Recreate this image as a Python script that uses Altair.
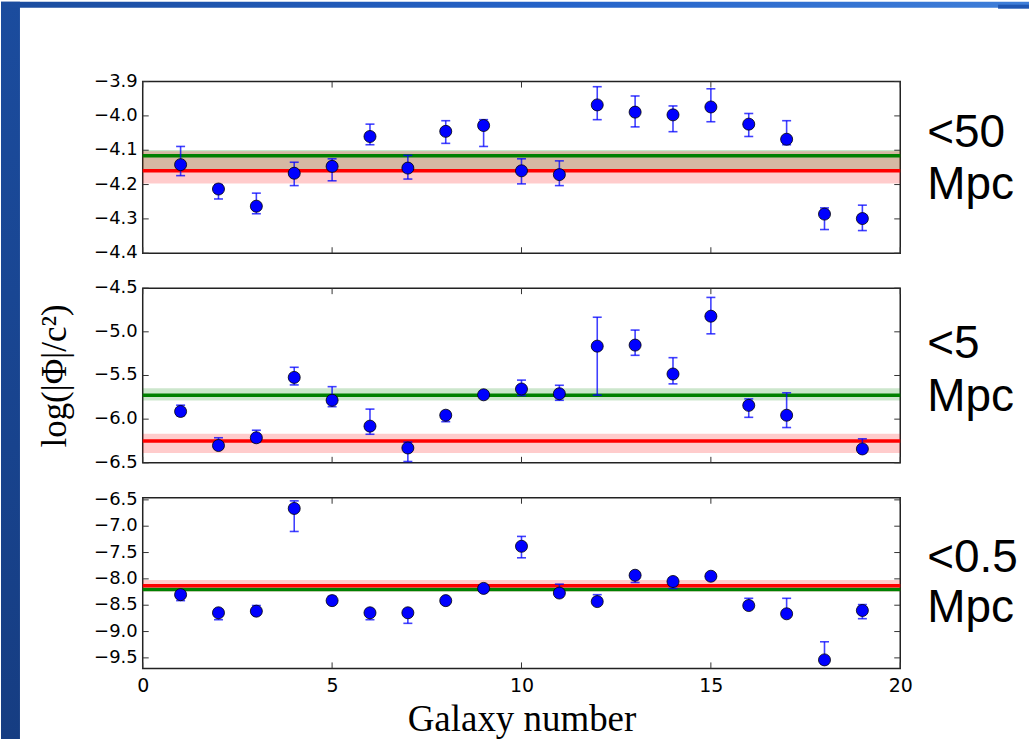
import altair as alt
import pandas as pd

# ---------------- data ----------------
gal1 = list(range(1, 20))
val1 = [-4.142, -4.213, -4.263, -4.167, -4.147, -4.060, -4.152, -4.045, -4.028, -4.160,
        -4.171, -3.968, -3.989, -3.997, -3.974, -4.024, -4.068, -4.286, -4.299]
lo1 = [-4.174, -4.242, -4.285, -4.203, -4.189, -4.084, -4.184, -4.080, -4.089, -4.198,
       -4.203, -4.011, -4.032, -4.046, -4.017, -4.060, -4.084, -4.331, -4.334]
hi1 = [-4.089, -4.200, -4.225, -4.135, -4.125, -4.024, -4.115, -4.014, -4.011, -4.125,
       -4.131, -3.915, -3.942, -3.971, -3.921, -3.993, -4.014, -4.268, -4.260]

gal2 = list(range(1, 18)) + [19]
val2 = [-5.912, -6.302, -6.213, -5.522, -5.784, -6.080, -6.330, -5.955, -5.721, -5.655,
        -5.709, -5.164, -5.152, -5.483, -4.821, -5.842, -5.955, -6.341]
lo2 = [-5.960, -6.341, -6.263, -5.608, -5.857, -6.173, -6.485, -6.029, -5.750, -5.729,
       -5.784, -5.725, -5.269, -5.596, -5.023, -5.979, -6.096, -6.380]
hi2 = [-5.840, -6.213, -6.127, -5.406, -5.628, -5.885, -6.263, -5.912, -5.690, -5.553,
       -5.612, -4.833, -4.980, -5.296, -4.606, -5.768, -5.698, -6.225]

gal3 = list(range(1, 20))
val3 = [-8.300, -8.644, -8.613, -6.663, -8.413, -8.644, -8.644, -8.413, -8.181, -7.381,
        -8.269, -8.431, -7.931, -8.050, -7.950, -8.506, -8.663, -9.538, -8.600]
lo3 = [-8.413, -8.775, -8.660, -7.100, -8.450, -8.775, -8.844, -8.450, -8.210, -7.600,
       -8.300, -8.470, -8.069, -8.181, -7.980, -8.550, -8.700, -9.560, -8.756]
hi3 = [-8.225, -8.600, -8.506, -6.519, -8.331, -8.600, -8.600, -8.360, -8.150, -7.194,
       -8.100, -8.300, -7.900, -8.000, -7.920, -8.369, -8.369, -9.194, -8.488]

# horizontal reference levels: (centre, band low, band high)
green1 = (-4.116, -4.157, -4.099)
red1 = (-4.160, -4.197, -4.103)
green2 = (-5.725, -5.787, -5.647)
red2 = (-6.251, -6.388, -6.166)
green3 = (-8.200, -8.230, -8.170)
red3 = (-8.131, -8.240, -8.020)

yticks1 = [-3.9, -4.0, -4.1, -4.2, -4.3, -4.4]
yticks2 = [-4.5, -5.0, -5.5, -6.0, -6.5]
yticks3 = [-6.5, -7.0, -7.5, -8.0, -8.5, -9.0, -9.5]
xticks = [0, 5, 10, 15, 20]
xdomain = [0, 20]

labels1 = ["<50", "Mpc"]
labels2 = ["<5", "Mpc"]
labels3 = ["<0.5", "Mpc"]

W = 759
BLUE = "#0000ff"


def panel(gal, val, lo, hi, domain, yticks, green, red, labels, H, label_y,
          show_x=False, ytitle=None, frame=False):
    pts = pd.DataFrame({"g": gal, "v": val, "lo": lo, "hi": hi})
    lev = pd.DataFrame({
        "kind": ["green", "red"],
        "c": [green[0], red[0]],
        "b0": [green[1], red[1]],
        "b1": [green[2], red[2]],
        "x0": [xdomain[0]] * 2,
        "x1": [xdomain[1]] * 2,
    })
    ys = alt.Scale(domain=domain, nice=False, zero=False)
    xs = alt.Scale(domain=xdomain, nice=False, zero=False)

    if show_x:
        xaxis = alt.Axis(values=xticks, format="d", ticks=False, domain=False, grid=False,
                         labelFont="DejaVu Sans", labelFontSize=19, labelPadding=8,
                         labelFlush=False, labelOverlap=False, labelColor="black",
                         title="Galaxy number", titleFont="Liberation Serif",
                         titleFontSize=37, titleFontWeight="normal", titlePadding=6,
                         titleColor="black")
    else:
        xaxis = None
    yaxis_kw = dict(labels=False, ticks=False, domain=False, grid=False)
    if ytitle:
        yaxis_kw.update(title=ytitle, titleFont="Liberation Serif", titleFontSize=35,
                        titleFontWeight="normal", titlePadding=70, titleColor="black")
    yaxis = alt.Axis(**yaxis_kw)

    base_lev = alt.Chart(lev)
    colors = alt.Scale(domain=["green", "red"], range=["#008000", "#ff0000"])

    bands = base_lev.mark_rect(opacity=0.2).encode(
        x=alt.X("x0:Q", scale=xs, axis=xaxis, title=None if not show_x else "Galaxy number"),
        x2="x1:Q",
        y=alt.Y("b0:Q", scale=ys, axis=yaxis, title=ytitle if ytitle else None),
        y2="b1:Q",
        color=alt.Color("kind:N", scale=colors, legend=None),
    )
    lines = base_lev.mark_rule(strokeWidth=3.5).encode(
        x="x0:Q", x2="x1:Q", y="c:Q",
        color=alt.Color("kind:N", scale=colors, legend=None),
    )
    base_pts = alt.Chart(pts)
    bars = base_pts.mark_rule(color=BLUE, strokeWidth=1.6, opacity=0.75).encode(
        x="g:Q", y="lo:Q", y2="hi:Q")
    cap_lo = base_pts.mark_tick(color=BLUE, orient="horizontal", size=9, thickness=1.6,
                                opacity=0.75).encode(x="g:Q", y="lo:Q")
    cap_hi = base_pts.mark_tick(color=BLUE, orient="horizontal", size=9, thickness=1.6,
                                opacity=0.75).encode(x="g:Q", y="hi:Q")
    dots = base_pts.mark_point(filled=True, fill=BLUE, stroke="black", strokeWidth=0.8,
                               size=145, opacity=1, shape="circle").encode(
        x="g:Q", y="v:Q")

    # inward ticks on all four sides + y tick labels
    ytdf = pd.DataFrame({"t": yticks,
                         "lab": [f"{t:.1f}".replace("-", "\u2212") for t in yticks]})
    yt = alt.Chart(ytdf)
    xt = alt.Chart(pd.DataFrame({"t": xticks}))
    tick_style = dict(color="#333333", strokeWidth=1)
    ytl = yt.mark_rule(**tick_style).encode(y="t:Q", x=alt.value(0), x2=alt.value(6))
    ytr = yt.mark_rule(**tick_style).encode(y="t:Q", x=alt.value(W - 6), x2=alt.value(W))
    ylab = yt.mark_text(font="DejaVu Sans", fontSize=18, align="right", baseline="middle",
                        color="black").encode(y="t:Q", text="lab:N", x=alt.value(-5))
    xtb = xt.mark_rule(**tick_style).encode(x="t:Q", y=alt.value(H), y2=alt.value(H - 6))
    xtt = xt.mark_rule(**tick_style).encode(x="t:Q", y=alt.value(0), y2=alt.value(6))

    one = alt.Chart(pd.DataFrame({"k": [0]}))
    txt = []
    for s, yy in zip(labels, label_y):
        txt.append(one.mark_text(text=s, font="Liberation Sans", fontSize=46, align="left",
                                 baseline="alphabetic", color="black").encode(
            x=alt.value(786), y=alt.value(yy)))

    layers = [bands, lines, bars, cap_lo, cap_hi, dots, ytl, ytr, ylab, xtb, xtt] + txt

    if frame:
        left_grad = alt.LinearGradient(
            gradient="linear", x1=0, x2=0, y1=0, y2=1,
            stops=[alt.GradientStop(color="#1b4c9e", offset=0),
                   alt.GradientStop(color="#163d82", offset=1)])
        top_grad = alt.LinearGradient(
            gradient="linear", x1=0, x2=1, y1=0, y2=0,
            stops=[alt.GradientStop(color="#1b4c9e", offset=0),
                   alt.GradientStop(color="#2563c9", offset=0.55),
                   alt.GradientStop(color="#3f7ed8", offset=1)])
        layers = [
            one.mark_rect(fill=left_grad).encode(
                x=alt.value(-142), x2=alt.value(-123), y=alt.value(-80), y2=alt.value(659)),
            one.mark_rect(fill=top_grad).encode(
                x=alt.value(-142), x2=alt.value(888), y=alt.value(-80), y2=alt.value(-74)),
            one.mark_rect(fill="#1f56b3").encode(
                x=alt.value(857), x2=alt.value(888), y=alt.value(-77), y2=alt.value(-73)),
        ] + layers

    return alt.layer(*layers).properties(width=W, height=H)


p1 = panel(gal1, val1, lo1, hi1, [-4.4, -3.9], yticks1, green1, red1, labels1, 172,
           [66, 118], frame=True)
p2 = panel(gal2, val2, lo2, hi2, [-6.5, -4.5], yticks2, green2, red2, labels2, 175,
           [70, 123], ytitle="log(|Φ|/c²)")
p3 = panel(gal3, val3, lo3, hi3, [-9.7, -6.46], yticks3, green3, red3, labels3, 171,
           [74, 124], show_x=True)

chart = alt.vconcat(p1, p2, p3, spacing=35, bounds="flush").properties(
    padding=0, background="white"
).configure_view(
    stroke="#222222", strokeWidth=1.5
)

chart.save("out.html", embed_options={"renderer": "svg", "actions": False})
